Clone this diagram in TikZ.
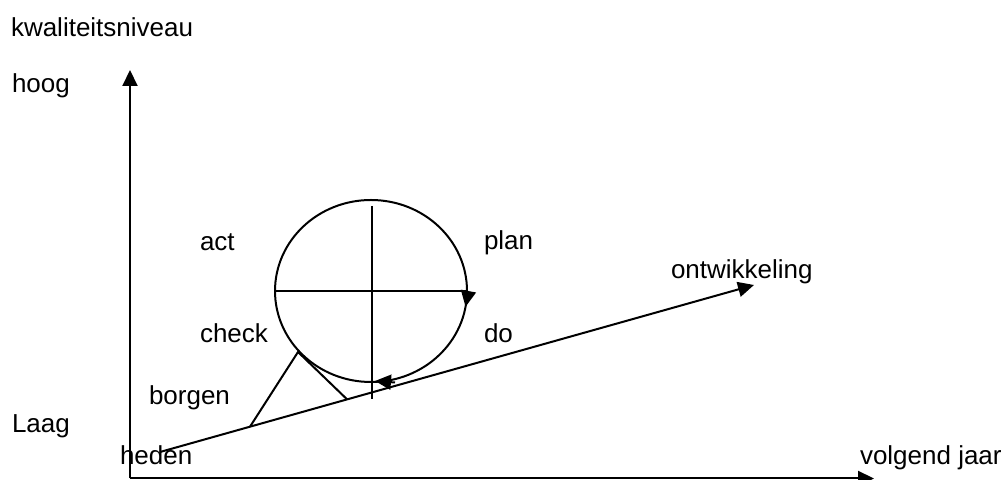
\documentclass[tikz,border=0pt]{standalone}
\usepackage{fontspec}
\setmainfont{Liberation Sans}
\usetikzlibrary{arrows.meta, calc}

\begin{document}
\begin{tikzpicture}[x=0.5pt, y=0.5pt, line width=1pt,
    font=\fontsize{13}{15}\selectfont,
    lbl/.style={anchor=base west, inner sep=0pt},
    tip/.style={-{Triangle[length=8pt, width=7.5pt]}}]
  \useasboundingbox (0,0) rectangle (1006,480);

  % axes
  \coordinate (origin) at (130,1.5);
  \coordinate (ytop) at (130,410);
  \coordinate (xend) at (874,1.5);
  \draw[tip] (origin) -- (ytop);
  \draw[tip] (origin) -- (xend);

  \node[lbl] (kwal) at (10,443) {kwaliteitsniveau};
  \node[lbl] (hoog) at (11,387) {hoog};
  \node[lbl] (laag) at (11,47) {Laag};
  \node[lbl] (heden) at (119,15) {heden};
  \node[lbl] (jaar) at (859,15) {volgend jaar};

  % ontwikkeling
  \coordinate (start) at (160,28);
  \coordinate (end) at (754,195);
  \draw[tip] (start) -- (end);
  \node[lbl] (ontw) at (670,201) {ontwikkeling};

  % pdca wheel
  \coordinate (c) at (371,189);
  \draw (c) ellipse [x radius=96, y radius=91];
  \draw (275,189) -- (467,189);
  \draw (372,274) -- (372,81);
  \draw[tip] (467,189) arc [start angle=0, end angle=-10, x radius=96, y radius=91];
  \draw[tip] (395,97.5) -- (375,99);

  \node[lbl] (act) at (199,229) {act};
  \node[lbl] (plan) at (483,230) {plan};
  \node[lbl] (check) at (199,137) {check};
  \node[lbl] (do) at (483,137) {do};

  % wig
  \coordinate (apex) at (298,128);
  \draw ($(start)!0.1515!(end)$) -- (apex) -- ($(start)!0.315!(end)$);
  \node[lbl] (borgen) at (148,75) {borgen};
\end{tikzpicture}
\end{document}
